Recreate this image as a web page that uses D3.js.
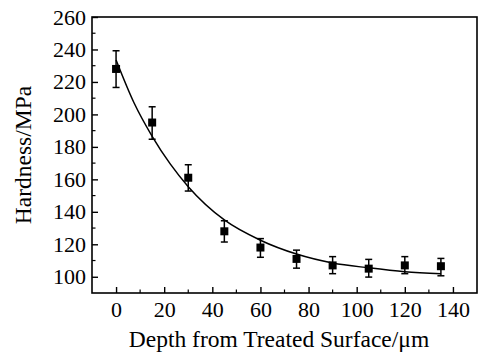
<!DOCTYPE html>
<html><head><meta charset="utf-8">
<script src="https://cdn.jsdelivr.net/npm/d3@7"></script>
<style>body{margin:0;background:#fff}svg{display:block}text{font-family:"Liberation Serif","Times New Roman",serif;fill:#000}</style>
</head><body>
<svg id="c" width="478" height="352"></svg>
<script>
const depth = [0, 15, 30, 45, 60, 75, 90, 105, 120, 135];
const hardness = [228, 195, 161, 128, 118, 111, 107, 105, 107, 106.5];
const errLow = [216.6, 184.7, 152.8, 121.4, 112, 105.3, 101.9, 99.8, 101.9, 100.6];
const errHigh = [239.2, 204.7, 169, 134.5, 123.5, 116.4, 112.4, 110.7, 112.4, 111.3];
const fitX = [0, 7.5, 15, 22.5, 30, 45, 60, 75, 90, 105, 120, 135];
const fitY = [233.5, 207, 186.5, 169.5, 155.5, 135, 122.5, 114, 108.5, 105.5, 103.1, 101.9];
const xTicks = [0, 20, 40, 60, 80, 100, 120, 140];
const yTicks = [100, 120, 140, 160, 180, 200, 220, 240, 260];

const L = 92, T = 17, R = 477, B = 293;
const FF = '"Liberation Serif","Times New Roman",serif';
const svg = d3.select("#c");
const x = d3.scaleLinear().domain([-10, 150]).range([L, R]);
const y = d3.scaleLinear().domain([90, 260]).range([B, T]);

// frame
svg.append("rect").attr("x", L).attr("y", T).attr("width", R - L).attr("height", B - T)
  .attr("fill", "none").attr("stroke", "#000").attr("stroke-width", 1.6);

// x axis ticks (inward)
const xMinor = d3.range(-10, 151, 10).filter(v => !xTicks.includes(v) && v > -10 && v < 150);
const gx = svg.append("g").attr("transform", `translate(0,${B})`)
  .call(d3.axisBottom(x).tickValues(xTicks).tickSize(-6).tickPadding(8).tickFormat(d3.format("d")));
gx.attr("font-family", null).attr("font-size", null);
gx.select(".domain").remove();
gx.selectAll(".tick line").attr("stroke-width", 1.4);
gx.selectAll("text").style("font-family", FF).style("font-size", "22px").attr("fill", "#000");
svg.append("g").selectAll("line").data(xMinor).join("line")
  .attr("x1", d => x(d)).attr("x2", d => x(d)).attr("y1", B).attr("y2", B - 3.5)
  .attr("stroke", "#000").attr("stroke-width", 1.2);

// y axis ticks (inward)
const yMinor = d3.range(110, 260, 20);
const gy = svg.append("g").attr("transform", `translate(${L},0)`)
  .call(d3.axisLeft(y).tickValues(yTicks).tickSize(-6).tickPadding(6).tickFormat(d3.format("d")));
gy.attr("font-family", null).attr("font-size", null);
gy.select(".domain").remove();
gy.selectAll(".tick line").attr("stroke-width", 1.4);
gy.selectAll("text").style("font-family", FF).style("font-size", "22px").attr("fill", "#000");
svg.append("g").selectAll("line").data(yMinor).join("line")
  .attr("x1", L).attr("x2", L + 3.5).attr("y1", d => y(d)).attr("y2", d => y(d))
  .attr("stroke", "#000").attr("stroke-width", 1.2);

// fit curve
const line = d3.line().x(d => x(d[0])).y(d => y(d[1])).curve(d3.curveMonotoneX);
svg.append("path").datum(fitX.map((v, i) => [v, fitY[i]]))
  .attr("d", line).attr("fill", "none").attr("stroke", "#000").attr("stroke-width", 1.5);

// error bars
const eg = svg.append("g").attr("stroke", "#000").attr("stroke-width", 1.5);
depth.forEach((d, i) => {
  const cx = x(d);
  eg.append("line").attr("x1", cx).attr("x2", cx).attr("y1", y(errLow[i])).attr("y2", y(errHigh[i]));
  eg.append("line").attr("x1", cx - 3.5).attr("x2", cx + 3.5).attr("y1", y(errLow[i])).attr("y2", y(errLow[i]));
  eg.append("line").attr("x1", cx - 3.5).attr("x2", cx + 3.5).attr("y1", y(errHigh[i])).attr("y2", y(errHigh[i]));
});

// markers
svg.append("g").selectAll("rect").data(depth).join("rect")
  .attr("x", (d) => x(d) - 4).attr("y", (d, i) => y(hardness[i]) - 4)
  .attr("width", 8).attr("height", 8).attr("fill", "#000");

// titles
svg.append("text").attr("x", 279).attr("y", 347).attr("text-anchor", "middle")
  .style("font-size", "23.5px").text("Depth from Treated Surface/\u03bcm");
svg.append("text").attr("transform", `translate(31,${(T + B) / 2}) rotate(-90)`)
  .attr("text-anchor", "middle").style("font-size", "23.5px").text("Hardness/MPa");
</script>
</body></html>
